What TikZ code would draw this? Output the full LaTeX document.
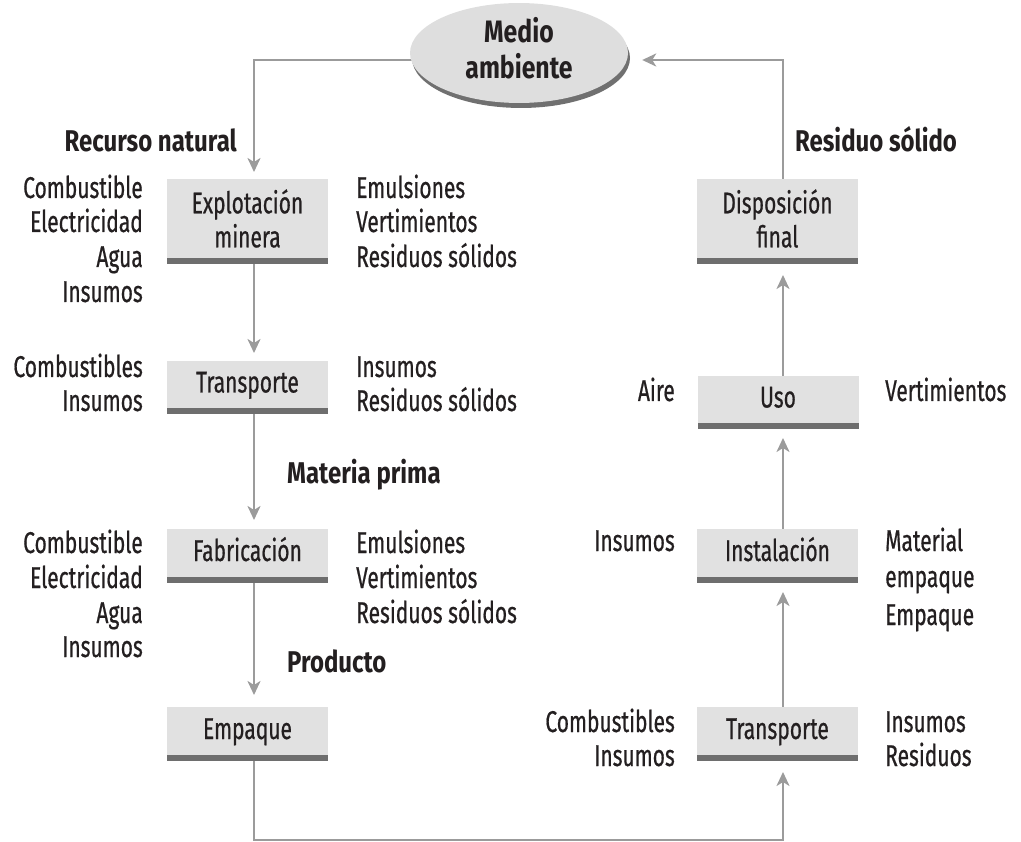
\documentclass[tikz,border=0pt]{standalone}
\usepackage{fontspec}
\setmainfont{Fira Sans}[FakeStretch=0.7, FakeBold=0.6, BoldFeatures={FakeStretch=0.8, FakeBold=0}]
\usetikzlibrary{arrows.meta,calc,shapes.geometric,shadows,backgrounds}
\definecolor{ink}{HTML}{231F20}
\definecolor{boxfill}{HTML}{E1E1E1}
\definecolor{bardark}{HTML}{6E6E6E}
\definecolor{linegray}{HTML}{9B9B9B}
\definecolor{ellfill}{HTML}{DEDEDE}
\definecolor{shadowgray}{HTML}{707070}
\begin{document}
\begin{tikzpicture}[x=1pt,y=-1pt,
  every node/.style={text=ink, font=\fontsize{30}{34}\selectfont},
  stage/.style={fill=boxfill, minimum width=161pt, inner sep=0pt, outer sep=0pt, align=center},
  single/.style={stage, minimum height=48pt, text height=18pt, text depth=2pt},
  double/.style={stage, minimum height=79pt},
  lblL/.style={anchor=base east, inner sep=0pt},
  lblR/.style={anchor=base west, inner sep=0pt},
  head/.style={font=\fontsize{30}{34}\selectfont\bfseries, inner sep=0pt},
  conn/.style={draw=linegray, line width=2.4pt},
  arr/.style={conn, -{Stealth[length=14pt,width=13pt,inset=4pt]}},
]
\useasboundingbox (0,0) rectangle (1021,842);

% environment ellipse
\node[ellipse, fill=ellfill, minimum width=218pt, minimum height=80pt, inner sep=0pt,
      font=\fontsize{31}{34}\selectfont\bfseries,
      drop shadow={shadow xshift=2pt, shadow yshift=-5pt, fill=shadowgray, opacity=1}]
      (me) at (519,53) {\raisebox{5pt}{\begin{tabular}{@{}c@{}}Medio\\ambiente\end{tabular}}};

% stages, left column
\node[double] (exp)  at (247.5,218.5) {Explotación\\minera};
\node[single, minimum height=47pt] (tr1) at (247.5,384.5) {Transporte};
\node[single] (fab)  at (247.5,553) {Fabricación};
\node[single] (emp)  at (247.5,731) {Empaque};
% stages, right column
\node[double] (disp) at (777.5,218.5) {Disposición\\final};
\node[single, minimum height=47pt] (uso)  at (778,399.5) {Uso};
\node[single] (inst) at (777.5,553) {Instalación};
\node[single] (tr2)  at (777.5,731) {Transporte};

\foreach \n in {exp,tr1,fab,emp,disp,uso,inst,tr2}
  \fill[bardark] (\n.south west) rectangle ($(\n.south east)+(0,6)$);

% column coordinates
\coordinate (LC) at (254,60);
\coordinate (RC) at (783,60);
\coordinate (BL) at (254,840);
\coordinate (BR) at (783,840);

\begin{scope}[on background layer]
  \draw[arr] ($(me.west)+(6,7)$) -- (LC) -- ($(exp.north -| LC)+(0,-7)$);
  \draw[arr] (exp.south -| LC) -- ($(tr1.north -| LC)+(0,-8)$);
  \draw[arr] (tr1.south -| LC) -- ($(fab.north -| LC)+(0,-9)$);
  \draw[arr] (fab.south -| LC) -- ($(emp.north -| LC)+(0,-12)$);
  \draw[arr] (emp.south -| LC) -- (BL) -- (BR) -- ($(tr2.south -| RC)+(0,17)$);
  \draw[arr] (tr2.north -| RC) -- ($(inst.south -| RC)+(0,15)$);
  \draw[arr] (inst.north -| RC) -- ($(uso.south -| RC)+(0,15)$);
  \draw[arr] (uso.north -| RC) -- ($(disp.south -| RC)+(0,17)$);
  \draw[arr] (disp.north -| RC) -- (RC) -- ($(me.east)+(14,7)$);
\end{scope}

% headings
\node[head, anchor=base east] (hrn) at (237,152) {Recurso natural};
\node[head, anchor=base west] (hmp) at (287,483) {Materia prima};
\node[head, anchor=base west] (hpr) at (287,672) {Producto};
\node[head, anchor=base west] (hrs) at (795,152) {Residuo sólido};

% inputs / outputs: explotación
\node[lblL] (e1) at (143,198) {Combustible};
\node[lblL] (e2) at (143,232) {Electricidad};
\node[lblL] (e3) at (143,267) {Agua};
\node[lblL] (e4) at (143,302) {Insumos};
\node[lblR] (e5) at (356,198) {Emulsiones};
\node[lblR] (e6) at (356,232) {Vertimientos};
\node[lblR] (e7) at (356,267) {Residuos sólidos};
% transporte 1
\node[lblL] (t1) at (143,377) {Combustibles};
\node[lblL] (t2) at (143,411) {Insumos};
\node[lblR] (t3) at (356,377) {Insumos};
\node[lblR] (t4) at (356,411) {Residuos sólidos};
% fabricación
\node[lblL] (f1) at (143,553) {Combustible};
\node[lblL] (f2) at (143,588) {Electricidad};
\node[lblL] (f3) at (143,623) {Agua};
\node[lblL] (f4) at (143,657) {Insumos};
\node[lblR] (f5) at (356,553) {Emulsiones};
\node[lblR] (f6) at (356,588) {Vertimientos};
\node[lblR] (f7) at (356,623) {Residuos sólidos};
% uso
\node[lblL] (u1) at (675,401) {Aire};
\node[lblR] (u2) at (885,401) {Vertimientos};
% instalación
\node[lblL] (i1) at (675,551) {Insumos};
\node[lblR] (i2) at (885,551) {Material};
\node[lblR] (i3) at (885,587) {empaque};
\node[lblR] (i4) at (885,625) {Empaque};
% transporte 2
\node[lblL] (r1) at (675,732) {Combustibles};
\node[lblL] (r2) at (675,766) {Insumos};
\node[lblR] (r3) at (885,732) {Insumos};
\node[lblR] (r4) at (885,766) {Residuos};
\end{tikzpicture}
\end{document}
